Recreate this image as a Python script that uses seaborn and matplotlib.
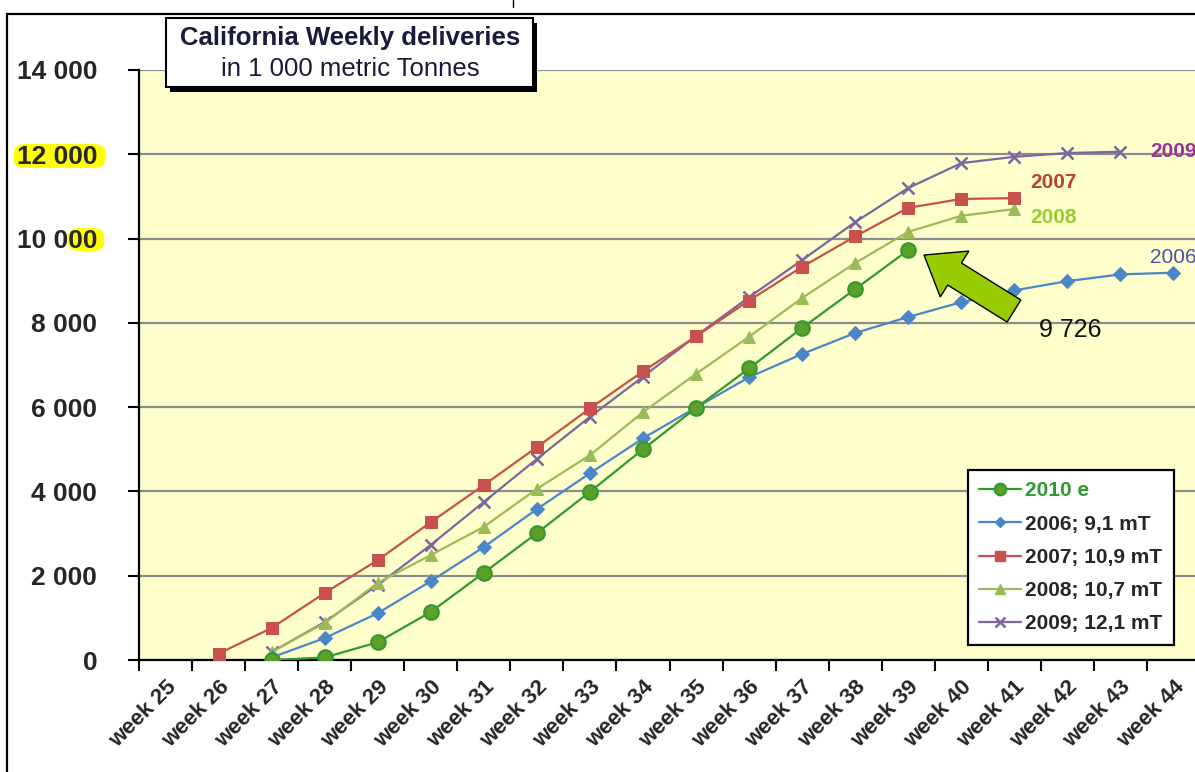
import matplotlib
matplotlib.use("Agg")
import matplotlib.pyplot as plt
import matplotlib.patches as mpatches
import matplotlib.transforms as mtransforms
from matplotlib.lines import Line2D
import seaborn as sns

# weekly cumulative deliveries, 1 000 metric tonnes
weeks_2010 = list(range(27, 40))
del_2010 = [0, 60, 420, 1140, 2070, 3010, 3990, 5000, 5980, 6920, 7880, 8800, 9726]

weeks_2006 = list(range(27, 45))
del_2006 = [60, 520, 1110, 1870, 2680, 3580, 4430, 5260, 5990, 6710, 7260, 7760,
            8140, 8490, 8770, 8990, 9150, 9190]

weeks_2007 = list(range(26, 42))
del_2007 = [150, 760, 1590, 2370, 3270, 4150, 5050, 5970, 6850, 7680, 8530, 9330,
            10050, 10730, 10940, 10960]

weeks_2008 = list(range(27, 42))
del_2008 = [190, 880, 1830, 2490, 3160, 4060, 4860, 5880, 6790, 7670, 8590, 9420,
            10160, 10540, 10700]

weeks_2009 = list(range(27, 44))
del_2009 = [190, 900, 1780, 2730, 3750, 4770, 5770, 6720, 7690, 8610, 9490, 10390,
            11200, 11790, 11940, 12030, 12060]

all_weeks = list(range(25, 45))
week_labels = [f"week {w}" for w in all_weeks]
y_ticks = [0, 2000, 4000, 6000, 8000, 10000, 12000, 14000]

sns.set_style("ticks")
plt.rcParams["font.family"] = ["Liberation Sans", "DejaVu Sans"]

W, H = 1195, 772
fig = plt.figure(figsize=(W / 100, H / 100), dpi=100)
fig.patch.set_facecolor("white")

def fx(px):
    return px / W

def fy(py):
    return 1 - py / H

# axes runs off the right edge like in the original screenshot
ax = fig.add_axes([fx(139), fy(660), (1200 - 139) / W, (660 - 70) / H])
ax.set_facecolor("#ffffcc")

series = [
    ("2010 e", weeks_2010, del_2010, "#2f9a2f", dict(marker="o", markersize=10.5, markerfacecolor="#5e9e2a", markeredgecolor="#2f9a2f", markeredgewidth=1.5)),
    ("2006; 9,1 mT", weeks_2006, del_2006, "#4a86c8", dict(marker="D", markersize=7, markerfacecolor="#4a86c8", markeredgecolor="#4a86c8")),
    ("2007; 10,9 mT", weeks_2007, del_2007, "#c8504d", dict(marker="s", markersize=9, markerfacecolor="#c8504d", markeredgecolor="#c8504d")),
    ("2008; 10,7 mT", weeks_2008, del_2008, "#9bbb59", dict(marker="^", markersize=9, markerfacecolor="#9bbb59", markeredgecolor="#9bbb59")),
    ("2009; 12,1 mT", weeks_2009, del_2009, "#8064a2", dict(marker="x", markersize=9, markeredgewidth=1.8, markeredgecolor="#8064a2")),
]

handles = []
for name, wk, vals, col, mk in series[::-1]:
    sns.lineplot(x=wk, y=vals, ax=ax, color=col, linewidth=1.6, legend=False, zorder=3, **mk)
for name, wk, vals, col, mk in series:
    opts = {k: v for k, v in mk.items() if k != "markersize"}
    handles.append(Line2D([0], [0], color=col, linewidth=1.6, label=name,
                          markersize=mk["markersize"] * 0.8, **opts))

ax.set_xlim(24.5, 44.5)
ax.set_ylim(0, 14000)
ax.set_yticks(y_ticks)
ax.set_yticklabels([f"{v:,}".replace(",", " ") for v in y_ticks], fontsize=19, fontweight="bold")
ax.set_xticks(all_weeks)
ax.set_xticklabels(week_labels, rotation=45, ha="right", rotation_mode="anchor", fontsize=16, fontweight="bold")
ax.set_xticks([w + 0.5 for w in range(24, 44)], minor=True)
ax.tick_params(axis="x", which="major", length=0, pad=12)
ax.tick_params(axis="x", which="minor", length=8, width=1.5, direction="out", color="black")
ax.tick_params(axis="y", length=8, width=1.5, direction="out", color="black", pad=22)
ax.set_xlabel("")
ax.set_ylabel("")
ax.grid(axis="y", color="#8c8c8c", linewidth=1.6)
ax.grid(axis="x", visible=False)
for s in ["left", "bottom"]:
    ax.spines[s].set_color("black")
    ax.spines[s].set_linewidth(1.6)
ax.spines["top"].set_visible(False)
ax.spines["right"].set_visible(False)

# series end labels
ax.text(43.56, 12060, "2009", color="#993399", fontsize=15, fontweight="bold", va="center", ha="left")
ax.text(41.3, 11320, "2007", color="#b84035", fontsize=15, fontweight="bold", va="center", ha="left")
ax.text(41.3, 10490, "2008", color="#99cc33", fontsize=15, fontweight="bold", va="center", ha="left")
ax.text(43.56, 9540, "2006", color="#5050b0", fontsize=15, va="center", ha="left")
ax.text(1070 / W, fy(330), "9 726", transform=fig.transFigure, fontsize=18, ha="center", va="center", color="#111111")

# fat arrow pointing at the 2010 estimate
arrow = mpatches.FancyArrow(1014, H - 311, -90, 56, width=26, head_width=54, head_length=36,
                            length_includes_head=True, facecolor="#99cc00", edgecolor="black",
                            linewidth=1, transform=mtransforms.IdentityTransform(), zorder=5)
fig.patches.append(arrow)
arrow.set_figure(fig)

# legend
leg = ax.legend(handles=handles, loc="upper left", bbox_to_anchor=(fx(968), fy(470)),
                bbox_transform=fig.transFigure, frameon=True, fancybox=False,
                edgecolor="black", facecolor="white", framealpha=1,
                prop={"weight": "bold", "size": 15}, handlelength=2.0, handletextpad=0.2,
                labelspacing=0.68, borderpad=0.55, borderaxespad=0)
leg.get_frame().set_linewidth(1.6)
leg.get_texts()[0].set_color("#2f9a2f")
leg.set_zorder(10)

# yellow highlights behind 12 000 and part of 10 000
for (x0, y0, x1, y1) in [(14, 144, 105, 168), (68, 228, 104, 251)]:
    hl = mpatches.FancyBboxPatch((fx(x0), fy(y1)), fx(x1 - x0), (y1 - y0) / H,
                                 boxstyle="round,pad=0,rounding_size=0.01",
                                 transform=fig.transFigure, facecolor="#ffff00",
                                 edgecolor="none", zorder=-1)
    fig.patches.append(hl)

# title box with shadow
shadow = mpatches.Rectangle((fx(170), fy(92)), fx(533 - 166), (87 - 18) / H, transform=fig.transFigure,
                            facecolor="black", edgecolor="none", zorder=6)
box = mpatches.Rectangle((fx(166), fy(87)), fx(533 - 166), (87 - 18) / H, transform=fig.transFigure,
                         facecolor="white", edgecolor="black", linewidth=1.5, zorder=7)
fig.patches.extend([shadow, box])
fig.text(fx(350), fy(38), "California Weekly deliveries", fontsize=18.5, fontweight="bold",
         ha="center", va="center", color="#1a1a3a", zorder=8)
fig.text(fx(350), fy(69), "in 1 000 metric Tonnes", fontsize=18.5, ha="center", va="center",
         color="#1a1a3a", zorder=8)

# outer chart frame
frame = mpatches.Rectangle((fx(7), fy(800)), fx(1200), (800 - 14) / H, transform=fig.transFigure,
                           facecolor="none", edgecolor="black", linewidth=1.6, zorder=0)
fig.patches.append(frame)
fig.add_artist(Line2D([fx(513), fx(513)], [fy(0), fy(7)], color="black", linewidth=1, transform=fig.transFigure))

fig.savefig("out.png", dpi=100)
